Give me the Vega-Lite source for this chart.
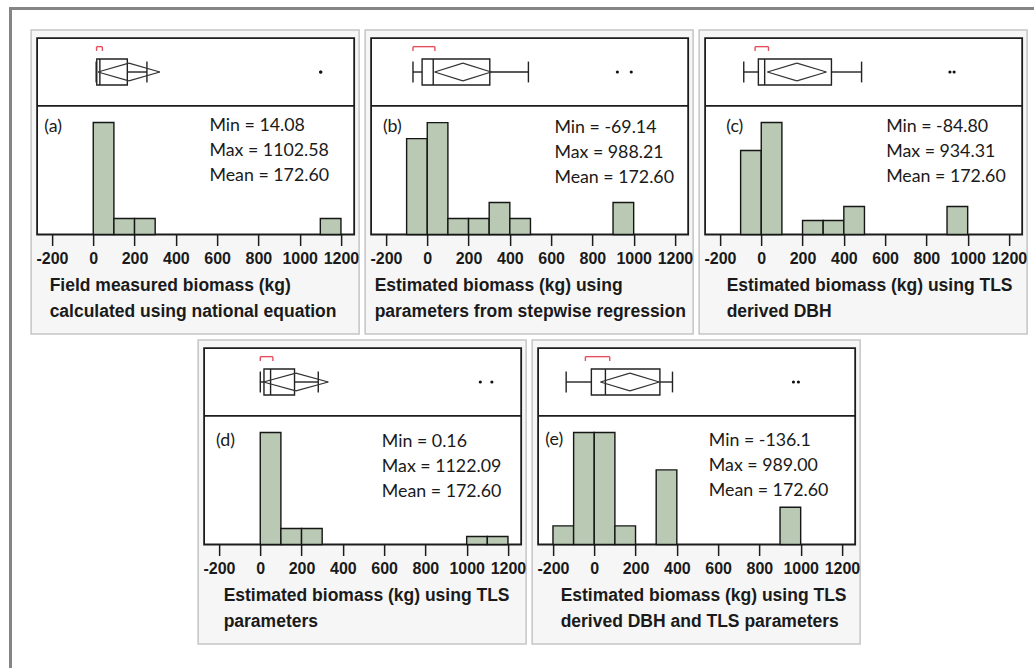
{
  "$schema": "https://vega.github.io/schema/vega-lite/v6.json",
  "background": "white",
  "padding": {"left": 9, "top": 7, "right": 0, "bottom": 0},
  "config": {
    "view": {"stroke": null},
    "axisX": {
      "domain": false, "grid": false, "offset": -99.5,
      "tickColor": "#1c1c1c", "tickWidth": 1.5,
      "labelFont": "Liberation Sans", "labelFontWeight": "bold", "labelFontSize": 16, "labelColor": "#1a1a1a",
      "labelPadding": 5, "labelOverlap": false, "labelFlush": false, "labelBound": false,
      "titleFont": "Liberation Sans", "titleFontWeight": "bold", "titleFontSize": 17.5, "titleColor": "#1a1a1a",
      "titleAlign": "left", "titleAnchor": "start", "titleBaseline": "top", "titleY": 42, "titleLineHeight": 25.5
    }
  },
  "datasets": {
    "stats": [
      {"panel": "a", "min": 14.08, "q1": 17, "median": 32, "q3": 165, "whiskerHi": 260, "mean": 172.6, "ciLo": 22.6, "ciHi": 322.6, "shortLo": 16, "shortHi": 44, "tag": "(a)", "summary": "Min = 14.08\nMax = 1102.58\nMean = 172.60"},
      {"panel": "b", "min": -69.14, "q1": -25, "median": 29, "q3": 303, "whiskerHi": 490, "mean": 172.6, "ciLo": 35.6, "ciHi": 309.6, "shortLo": -69.14, "shortHi": 37, "tag": "(b)", "summary": "Min = -69.14\nMax = 988.21\nMean = 172.60"},
      {"panel": "c", "min": -84.8, "q1": -14, "median": 16.5, "q3": 340, "whiskerHi": 486, "mean": 172.6, "ciLo": 29.6, "ciHi": 315.6, "shortLo": -30, "shortHi": 35, "tag": "(c)", "summary": "Min = -84.80\nMax = 934.31\nMean = 172.60"},
      {"panel": "d", "min": 0.16, "q1": 18, "median": 50, "q3": 166, "whiskerHi": 281, "mean": 172.6, "ciLo": 15.6, "ciHi": 329.6, "shortLo": 0.16, "shortHi": 61, "tag": "(d)", "summary": "Min = 0.16\nMax = 1122.09\nMean = 172.60"},
      {"panel": "e", "min": -136.1, "q1": -14, "median": 54, "q3": 318, "whiskerHi": 379, "mean": 172.6, "ciLo": 30.1, "ciHi": 315.1, "shortLo": -43, "shortHi": 75, "tag": "(e)", "summary": "Min = -136.1\nMax = 989.00\nMean = 172.60"}
    ],
    "outliers": [
      {"panel": "a", "value": 1101.2}, {"panel": "a", "value": 1102.58},
      {"panel": "b", "value": 921}, {"panel": "b", "value": 988.21},
      {"panel": "c", "value": 914}, {"panel": "c", "value": 934.31},
      {"panel": "d", "value": 1066}, {"panel": "d", "value": 1122.09},
      {"panel": "e", "value": 965}, {"panel": "e", "value": 989.0}
    ],
    "bins": [
      {"panel": "a", "lo": 0, "hi": 100, "count": 14}, {"panel": "a", "lo": 100, "hi": 200, "count": 2}, {"panel": "a", "lo": 200, "hi": 300, "count": 2}, {"panel": "a", "lo": 1100, "hi": 1200, "count": 2},
      {"panel": "b", "lo": -100, "hi": 0, "count": 6}, {"panel": "b", "lo": 0, "hi": 100, "count": 7}, {"panel": "b", "lo": 100, "hi": 200, "count": 1}, {"panel": "b", "lo": 200, "hi": 300, "count": 1}, {"panel": "b", "lo": 300, "hi": 400, "count": 2}, {"panel": "b", "lo": 400, "hi": 500, "count": 1}, {"panel": "b", "lo": 900, "hi": 1000, "count": 2},
      {"panel": "c", "lo": -100, "hi": 0, "count": 6}, {"panel": "c", "lo": 0, "hi": 100, "count": 8}, {"panel": "c", "lo": 200, "hi": 300, "count": 1}, {"panel": "c", "lo": 300, "hi": 400, "count": 1}, {"panel": "c", "lo": 400, "hi": 500, "count": 2}, {"panel": "c", "lo": 900, "hi": 1000, "count": 2},
      {"panel": "d", "lo": 0, "hi": 100, "count": 14}, {"panel": "d", "lo": 100, "hi": 200, "count": 2}, {"panel": "d", "lo": 200, "hi": 300, "count": 2}, {"panel": "d", "lo": 1000, "hi": 1100, "count": 1}, {"panel": "d", "lo": 1100, "hi": 1200, "count": 1},
      {"panel": "e", "lo": -200, "hi": -100, "count": 1}, {"panel": "e", "lo": -100, "hi": 0, "count": 6}, {"panel": "e", "lo": 0, "hi": 100, "count": 6}, {"panel": "e", "lo": 100, "hi": 200, "count": 1}, {"panel": "e", "lo": 300, "hi": 400, "count": 4}, {"panel": "e", "lo": 900, "hi": 1000, "count": 2}
    ]
  },
  "spacing": 0,
  "vconcat": [
    {
      "width": 1025, "height": 3,
      "data": {"values": [{}]},
      "mark": {"type": "rect", "opacity": 0},
      "encoding": {},
      "view": {"fill": "#858585", "stroke": null}
    },
    {
      "spacing": 18,
      "hconcat": [
        {
          "width": 3, "height": 658,
          "data": {"values": [{}]},
          "mark": {"type": "rect", "opacity": 0},
          "encoding": {},
          "view": {"fill": "#858585", "stroke": null}
        },
        {
          "spacing": 18,
          "vconcat": [
            {
              "width": 1, "height": 1,
              "data": {"values": [{}]},
              "mark": {"type": "rect", "opacity": 0},
              "encoding": {},
              "view": {"fill": null, "stroke": null}
            },
            {
              "spacing": 4,
              "center": true,
              "vconcat": [
                {
                  "spacing": 4,
                  "hconcat": [
                    {
                      "width": 328, "height": 304,
                      "view": {"fill": "#f6f6f6", "stroke": "#c5c5c5", "strokeWidth": 1.5},
                      "resolve": {"scale": {"y": "independent"}, "axis": {"x": "independent"}},
                      "layer": [
                        {"data": {"name": "stats"}, "transform": [{"filter": "datum.panel === 'a'"}],
                         "layer": [
                           {"mark": {"type": "rect", "fill": "#ffffff", "stroke": "#1c1c1c", "strokeWidth": 1.8},
                            "encoding": {"x": {"datum": -272, "type": "quantitative", "scale": {"domain": [-301, 1288], "nice": false, "zero": false}, "axis": null}, "x2": {"datum": 1264},
                                         "y": {"datum": 2.6, "type": "quantitative", "scale": {"domain": [-20.154, 3.231], "nice": false, "zero": false}, "axis": null}, "y2": {"datum": -12.5}}},
                           {"mark": {"type": "rule", "color": "#1c1c1c", "strokeWidth": 1.8},
                            "encoding": {"x": {"datum": -272, "type": "quantitative", "scale": {"domain": [-301, 1288], "nice": false, "zero": false}, "axis": null}, "x2": {"datum": 1264},
                                         "y": {"datum": -2.6, "type": "quantitative", "scale": {"domain": [-20.154, 3.231], "nice": false, "zero": false}, "axis": null}}}
                         ]},
                        {"data": {"name": "bins"}, "transform": [{"filter": "datum.panel === 'a'"}],
                         "mark": {"type": "rect", "fill": "#b9c9b3", "stroke": "#161616", "strokeWidth": 1.4},
                         "encoding": {
                           "x": {"field": "lo", "type": "quantitative", "scale": {"domain": [-301, 1288], "nice": false, "zero": false},
                                 "axis": {"orient": "bottom", "values": [-200, 0, 200, 400, 600, 800, 1000, 1200], "tickSize": 11,
                                          "labelExpr": "toString(datum.value)",
                                          "title": ["Field measured biomass (kg)", "calculated using national equation"], "titleX": 18}},
                           "x2": {"field": "hi"},
                           "y": {"field": "count", "type": "quantitative", "scale": {"domain": [-12.44, 25.57], "nice": false, "zero": false}, "axis": null},
                           "y2": {"datum": 0}}},
                        {"data": {"name": "stats"}, "transform": [{"filter": "datum.panel === 'a'"}],
                         "layer": [
                           {"mark": {"type": "rule", "color": "#222222", "strokeWidth": 1.4},
                            "encoding": {"x": {"field": "min", "type": "quantitative", "scale": {"domain": [-301, 1288], "nice": false, "zero": false},
                                               "axis": {"orient": "bottom", "values": [-100, 100, 300, 500, 700, 900, 1100], "tickSize": 6, "labels": false, "title": null}}, "x2": {"field": "q1"},
                                         "y": {"datum": 0, "type": "quantitative", "scale": {"domain": [-20.154, 3.231], "nice": false, "zero": false}, "axis": null}}},
                           {"mark": {"type": "rule", "color": "#222222", "strokeWidth": 1.4},
                            "encoding": {"x": {"field": "q3", "type": "quantitative", "scale": {"domain": [-301, 1288], "nice": false, "zero": false}, "axis": null}, "x2": {"field": "whiskerHi"},
                                         "y": {"datum": 0, "type": "quantitative", "scale": {"domain": [-20.154, 3.231], "nice": false, "zero": false}, "axis": null}}},
                           {"mark": {"type": "rule", "color": "#222222", "strokeWidth": 1.4},
                            "encoding": {"x": {"field": "min", "type": "quantitative", "scale": {"domain": [-301, 1288], "nice": false, "zero": false}, "axis": null},
                                         "y": {"datum": -0.8, "type": "quantitative", "scale": {"domain": [-20.154, 3.231], "nice": false, "zero": false}, "axis": null}, "y2": {"datum": 0.8}}},
                           {"mark": {"type": "rule", "color": "#222222", "strokeWidth": 1.4},
                            "encoding": {"x": {"field": "whiskerHi", "type": "quantitative", "scale": {"domain": [-301, 1288], "nice": false, "zero": false}, "axis": null},
                                         "y": {"datum": -0.8, "type": "quantitative", "scale": {"domain": [-20.154, 3.231], "nice": false, "zero": false}, "axis": null}, "y2": {"datum": 0.8}}},
                           {"mark": {"type": "rect", "filled": false, "stroke": "#222222", "strokeWidth": 1.4},
                            "encoding": {"x": {"field": "q1", "type": "quantitative", "scale": {"domain": [-301, 1288], "nice": false, "zero": false}, "axis": null}, "x2": {"field": "q3"},
                                         "y": {"datum": -1, "type": "quantitative", "scale": {"domain": [-20.154, 3.231], "nice": false, "zero": false}, "axis": null}, "y2": {"datum": 1}}},
                           {"mark": {"type": "rule", "color": "#222222", "strokeWidth": 1.4},
                            "encoding": {"x": {"field": "median", "type": "quantitative", "scale": {"domain": [-301, 1288], "nice": false, "zero": false}, "axis": null},
                                         "y": {"datum": -1, "type": "quantitative", "scale": {"domain": [-20.154, 3.231], "nice": false, "zero": false}, "axis": null}, "y2": {"datum": 1}}},
                           {"mark": {"type": "rule", "color": "#333333", "strokeWidth": 1.2},
                            "encoding": {"x": {"field": "ciLo", "type": "quantitative", "scale": {"domain": [-301, 1288], "nice": false, "zero": false}, "axis": null}, "x2": {"field": "mean"},
                                         "y": {"datum": 0, "type": "quantitative", "scale": {"domain": [-20.154, 3.231], "nice": false, "zero": false}, "axis": null}, "y2": {"datum": 0.68}}},
                           {"mark": {"type": "rule", "color": "#333333", "strokeWidth": 1.2},
                            "encoding": {"x": {"field": "ciLo", "type": "quantitative", "scale": {"domain": [-301, 1288], "nice": false, "zero": false}, "axis": null}, "x2": {"field": "mean"},
                                         "y": {"datum": 0, "type": "quantitative", "scale": {"domain": [-20.154, 3.231], "nice": false, "zero": false}, "axis": null}, "y2": {"datum": -0.68}}},
                           {"mark": {"type": "rule", "color": "#333333", "strokeWidth": 1.2},
                            "encoding": {"x": {"field": "ciHi", "type": "quantitative", "scale": {"domain": [-301, 1288], "nice": false, "zero": false}, "axis": null}, "x2": {"field": "mean"},
                                         "y": {"datum": 0, "type": "quantitative", "scale": {"domain": [-20.154, 3.231], "nice": false, "zero": false}, "axis": null}, "y2": {"datum": 0.68}}},
                           {"mark": {"type": "rule", "color": "#333333", "strokeWidth": 1.2},
                            "encoding": {"x": {"field": "ciHi", "type": "quantitative", "scale": {"domain": [-301, 1288], "nice": false, "zero": false}, "axis": null}, "x2": {"field": "mean"},
                                         "y": {"datum": 0, "type": "quantitative", "scale": {"domain": [-20.154, 3.231], "nice": false, "zero": false}, "axis": null}, "y2": {"datum": -0.68}}},
                           {"mark": {"type": "rule", "color": "#e5505e", "strokeWidth": 1.4},
                            "encoding": {"x": {"field": "shortLo", "type": "quantitative", "scale": {"domain": [-301, 1288], "nice": false, "zero": false}, "axis": null}, "x2": {"field": "shortHi"},
                                         "y": {"datum": 1.95, "type": "quantitative", "scale": {"domain": [-20.154, 3.231], "nice": false, "zero": false}, "axis": null}}},
                           {"mark": {"type": "rule", "color": "#e5505e", "strokeWidth": 1.4},
                            "encoding": {"x": {"field": "shortLo", "type": "quantitative", "scale": {"domain": [-301, 1288], "nice": false, "zero": false}, "axis": null},
                                         "y": {"datum": 1.62, "type": "quantitative", "scale": {"domain": [-20.154, 3.231], "nice": false, "zero": false}, "axis": null}, "y2": {"datum": 1.95}}},
                           {"mark": {"type": "rule", "color": "#e5505e", "strokeWidth": 1.4},
                            "encoding": {"x": {"field": "shortHi", "type": "quantitative", "scale": {"domain": [-301, 1288], "nice": false, "zero": false}, "axis": null},
                                         "y": {"datum": 1.62, "type": "quantitative", "scale": {"domain": [-20.154, 3.231], "nice": false, "zero": false}, "axis": null}, "y2": {"datum": 1.95}}},
                           {"data": {"name": "outliers"}, "transform": [{"filter": "datum.panel === 'a'"}],
                            "mark": {"type": "point", "filled": true, "color": "#111111", "size": 10, "opacity": 1},
                            "encoding": {"x": {"field": "value", "type": "quantitative", "scale": {"domain": [-301, 1288], "nice": false, "zero": false}, "axis": null},
                                         "y": {"datum": 0, "type": "quantitative", "scale": {"domain": [-20.154, 3.231], "nice": false, "zero": false}, "axis": null}}},
                           {"mark": {"type": "text", "font": "Lato", "fontSize": 17.8, "color": "#1a1a1a", "align": "left", "baseline": "middle"},
                            "encoding": {"text": {"field": "tag"},
                                         "x": {"datum": -237, "type": "quantitative", "scale": {"domain": [-301, 1288], "nice": false, "zero": false}, "axis": null},
                                         "y": {"datum": -4.23, "type": "quantitative", "scale": {"domain": [-20.154, 3.231], "nice": false, "zero": false}, "axis": null}}},
                           {"mark": {"type": "text", "font": "Lato", "fontSize": 17.8, "color": "#1a1a1a", "align": "left", "baseline": "middle", "lineBreak": "\n", "lineHeight": 25},
                            "encoding": {"text": {"field": "summary"},
                                         "x": {"datum": 563, "type": "quantitative", "scale": {"domain": [-301, 1288], "nice": false, "zero": false}, "axis": null},
                                         "y": {"datum": -4.15, "type": "quantitative", "scale": {"domain": [-20.154, 3.231], "nice": false, "zero": false}, "axis": null}}}
                         ]}
                      ]
                    },
                    {
                      "width": 328, "height": 304,
                      "view": {"fill": "#f6f6f6", "stroke": "#c5c5c5", "strokeWidth": 1.5},
                      "resolve": {"scale": {"y": "independent"}, "axis": {"x": "independent"}},
                      "layer": [
                        {"data": {"name": "stats"}, "transform": [{"filter": "datum.panel === 'b'"}],
                         "layer": [
                           {"mark": {"type": "rect", "fill": "#ffffff", "stroke": "#1c1c1c", "strokeWidth": 1.8},
                            "encoding": {"x": {"datum": -272, "type": "quantitative", "scale": {"domain": [-301, 1288], "nice": false, "zero": false}, "axis": null}, "x2": {"datum": 1264},
                                         "y": {"datum": 2.6, "type": "quantitative", "scale": {"domain": [-20.154, 3.231], "nice": false, "zero": false}, "axis": null}, "y2": {"datum": -12.5}}},
                           {"mark": {"type": "rule", "color": "#1c1c1c", "strokeWidth": 1.8},
                            "encoding": {"x": {"datum": -272, "type": "quantitative", "scale": {"domain": [-301, 1288], "nice": false, "zero": false}, "axis": null}, "x2": {"datum": 1264},
                                         "y": {"datum": -2.6, "type": "quantitative", "scale": {"domain": [-20.154, 3.231], "nice": false, "zero": false}, "axis": null}}}
                         ]},
                        {"data": {"name": "bins"}, "transform": [{"filter": "datum.panel === 'b'"}],
                         "mark": {"type": "rect", "fill": "#b9c9b3", "stroke": "#161616", "strokeWidth": 1.4},
                         "encoding": {
                           "x": {"field": "lo", "type": "quantitative", "scale": {"domain": [-301, 1288], "nice": false, "zero": false},
                                 "axis": {"orient": "bottom", "values": [-200, 0, 200, 400, 600, 800, 1000, 1200], "tickSize": 11,
                                          "labelExpr": "toString(datum.value)",
                                          "title": ["Estimated biomass (kg) using", "parameters from stepwise regression"], "titleX": 9}},
                           "x2": {"field": "hi"},
                           "y": {"field": "count", "type": "quantitative", "scale": {"domain": [-6.22, 12.79], "nice": false, "zero": false}, "axis": null},
                           "y2": {"datum": 0}}},
                        {"data": {"name": "stats"}, "transform": [{"filter": "datum.panel === 'b'"}],
                         "layer": [
                           {"mark": {"type": "rule", "color": "#222222", "strokeWidth": 1.4},
                            "encoding": {"x": {"field": "min", "type": "quantitative", "scale": {"domain": [-301, 1288], "nice": false, "zero": false},
                                               "axis": {"orient": "bottom", "values": [-100, 100, 300, 500, 700, 900, 1100], "tickSize": 6, "labels": false, "title": null}}, "x2": {"field": "q1"},
                                         "y": {"datum": 0, "type": "quantitative", "scale": {"domain": [-20.154, 3.231], "nice": false, "zero": false}, "axis": null}}},
                           {"mark": {"type": "rule", "color": "#222222", "strokeWidth": 1.4},
                            "encoding": {"x": {"field": "q3", "type": "quantitative", "scale": {"domain": [-301, 1288], "nice": false, "zero": false}, "axis": null}, "x2": {"field": "whiskerHi"},
                                         "y": {"datum": 0, "type": "quantitative", "scale": {"domain": [-20.154, 3.231], "nice": false, "zero": false}, "axis": null}}},
                           {"mark": {"type": "rule", "color": "#222222", "strokeWidth": 1.4},
                            "encoding": {"x": {"field": "min", "type": "quantitative", "scale": {"domain": [-301, 1288], "nice": false, "zero": false}, "axis": null},
                                         "y": {"datum": -0.8, "type": "quantitative", "scale": {"domain": [-20.154, 3.231], "nice": false, "zero": false}, "axis": null}, "y2": {"datum": 0.8}}},
                           {"mark": {"type": "rule", "color": "#222222", "strokeWidth": 1.4},
                            "encoding": {"x": {"field": "whiskerHi", "type": "quantitative", "scale": {"domain": [-301, 1288], "nice": false, "zero": false}, "axis": null},
                                         "y": {"datum": -0.8, "type": "quantitative", "scale": {"domain": [-20.154, 3.231], "nice": false, "zero": false}, "axis": null}, "y2": {"datum": 0.8}}},
                           {"mark": {"type": "rect", "filled": false, "stroke": "#222222", "strokeWidth": 1.4},
                            "encoding": {"x": {"field": "q1", "type": "quantitative", "scale": {"domain": [-301, 1288], "nice": false, "zero": false}, "axis": null}, "x2": {"field": "q3"},
                                         "y": {"datum": -1, "type": "quantitative", "scale": {"domain": [-20.154, 3.231], "nice": false, "zero": false}, "axis": null}, "y2": {"datum": 1}}},
                           {"mark": {"type": "rule", "color": "#222222", "strokeWidth": 1.4},
                            "encoding": {"x": {"field": "median", "type": "quantitative", "scale": {"domain": [-301, 1288], "nice": false, "zero": false}, "axis": null},
                                         "y": {"datum": -1, "type": "quantitative", "scale": {"domain": [-20.154, 3.231], "nice": false, "zero": false}, "axis": null}, "y2": {"datum": 1}}},
                           {"mark": {"type": "rule", "color": "#333333", "strokeWidth": 1.2},
                            "encoding": {"x": {"field": "ciLo", "type": "quantitative", "scale": {"domain": [-301, 1288], "nice": false, "zero": false}, "axis": null}, "x2": {"field": "mean"},
                                         "y": {"datum": 0, "type": "quantitative", "scale": {"domain": [-20.154, 3.231], "nice": false, "zero": false}, "axis": null}, "y2": {"datum": 0.68}}},
                           {"mark": {"type": "rule", "color": "#333333", "strokeWidth": 1.2},
                            "encoding": {"x": {"field": "ciLo", "type": "quantitative", "scale": {"domain": [-301, 1288], "nice": false, "zero": false}, "axis": null}, "x2": {"field": "mean"},
                                         "y": {"datum": 0, "type": "quantitative", "scale": {"domain": [-20.154, 3.231], "nice": false, "zero": false}, "axis": null}, "y2": {"datum": -0.68}}},
                           {"mark": {"type": "rule", "color": "#333333", "strokeWidth": 1.2},
                            "encoding": {"x": {"field": "ciHi", "type": "quantitative", "scale": {"domain": [-301, 1288], "nice": false, "zero": false}, "axis": null}, "x2": {"field": "mean"},
                                         "y": {"datum": 0, "type": "quantitative", "scale": {"domain": [-20.154, 3.231], "nice": false, "zero": false}, "axis": null}, "y2": {"datum": 0.68}}},
                           {"mark": {"type": "rule", "color": "#333333", "strokeWidth": 1.2},
                            "encoding": {"x": {"field": "ciHi", "type": "quantitative", "scale": {"domain": [-301, 1288], "nice": false, "zero": false}, "axis": null}, "x2": {"field": "mean"},
                                         "y": {"datum": 0, "type": "quantitative", "scale": {"domain": [-20.154, 3.231], "nice": false, "zero": false}, "axis": null}, "y2": {"datum": -0.68}}},
                           {"mark": {"type": "rule", "color": "#e5505e", "strokeWidth": 1.4},
                            "encoding": {"x": {"field": "shortLo", "type": "quantitative", "scale": {"domain": [-301, 1288], "nice": false, "zero": false}, "axis": null}, "x2": {"field": "shortHi"},
                                         "y": {"datum": 1.95, "type": "quantitative", "scale": {"domain": [-20.154, 3.231], "nice": false, "zero": false}, "axis": null}}},
                           {"mark": {"type": "rule", "color": "#e5505e", "strokeWidth": 1.4},
                            "encoding": {"x": {"field": "shortLo", "type": "quantitative", "scale": {"domain": [-301, 1288], "nice": false, "zero": false}, "axis": null},
                                         "y": {"datum": 1.62, "type": "quantitative", "scale": {"domain": [-20.154, 3.231], "nice": false, "zero": false}, "axis": null}, "y2": {"datum": 1.95}}},
                           {"mark": {"type": "rule", "color": "#e5505e", "strokeWidth": 1.4},
                            "encoding": {"x": {"field": "shortHi", "type": "quantitative", "scale": {"domain": [-301, 1288], "nice": false, "zero": false}, "axis": null},
                                         "y": {"datum": 1.62, "type": "quantitative", "scale": {"domain": [-20.154, 3.231], "nice": false, "zero": false}, "axis": null}, "y2": {"datum": 1.95}}},
                           {"data": {"name": "outliers"}, "transform": [{"filter": "datum.panel === 'b'"}],
                            "mark": {"type": "point", "filled": true, "color": "#111111", "size": 10, "opacity": 1},
                            "encoding": {"x": {"field": "value", "type": "quantitative", "scale": {"domain": [-301, 1288], "nice": false, "zero": false}, "axis": null},
                                         "y": {"datum": 0, "type": "quantitative", "scale": {"domain": [-20.154, 3.231], "nice": false, "zero": false}, "axis": null}}},
                           {"mark": {"type": "text", "font": "Lato", "fontSize": 17.8, "color": "#1a1a1a", "align": "left", "baseline": "middle"},
                            "encoding": {"text": {"field": "tag"},
                                         "x": {"datum": -215, "type": "quantitative", "scale": {"domain": [-301, 1288], "nice": false, "zero": false}, "axis": null},
                                         "y": {"datum": -4.23, "type": "quantitative", "scale": {"domain": [-20.154, 3.231], "nice": false, "zero": false}, "axis": null}}},
                           {"mark": {"type": "text", "font": "Lato", "fontSize": 17.8, "color": "#1a1a1a", "align": "left", "baseline": "middle", "lineBreak": "\n", "lineHeight": 25},
                            "encoding": {"text": {"field": "summary"},
                                         "x": {"datum": 616, "type": "quantitative", "scale": {"domain": [-301, 1288], "nice": false, "zero": false}, "axis": null},
                                         "y": {"datum": -4.28, "type": "quantitative", "scale": {"domain": [-20.154, 3.231], "nice": false, "zero": false}, "axis": null}}}
                         ]}
                      ]
                    },
                    {
                      "width": 328, "height": 304,
                      "view": {"fill": "#f6f6f6", "stroke": "#c5c5c5", "strokeWidth": 1.5},
                      "resolve": {"scale": {"y": "independent"}, "axis": {"x": "independent"}},
                      "layer": [
                        {"data": {"name": "stats"}, "transform": [{"filter": "datum.panel === 'c'"}],
                         "layer": [
                           {"mark": {"type": "rect", "fill": "#ffffff", "stroke": "#1c1c1c", "strokeWidth": 1.8},
                            "encoding": {"x": {"datum": -272, "type": "quantitative", "scale": {"domain": [-301, 1288], "nice": false, "zero": false}, "axis": null}, "x2": {"datum": 1264},
                                         "y": {"datum": 2.6, "type": "quantitative", "scale": {"domain": [-20.154, 3.231], "nice": false, "zero": false}, "axis": null}, "y2": {"datum": -12.5}}},
                           {"mark": {"type": "rule", "color": "#1c1c1c", "strokeWidth": 1.8},
                            "encoding": {"x": {"datum": -272, "type": "quantitative", "scale": {"domain": [-301, 1288], "nice": false, "zero": false}, "axis": null}, "x2": {"datum": 1264},
                                         "y": {"datum": -2.6, "type": "quantitative", "scale": {"domain": [-20.154, 3.231], "nice": false, "zero": false}, "axis": null}}}
                         ]},
                        {"data": {"name": "bins"}, "transform": [{"filter": "datum.panel === 'c'"}],
                         "mark": {"type": "rect", "fill": "#b9c9b3", "stroke": "#161616", "strokeWidth": 1.4},
                         "encoding": {
                           "x": {"field": "lo", "type": "quantitative", "scale": {"domain": [-301, 1288], "nice": false, "zero": false},
                                 "axis": {"orient": "bottom", "values": [-200, 0, 200, 400, 600, 800, 1000, 1200], "tickSize": 11,
                                          "labelExpr": "toString(datum.value)",
                                          "title": ["Estimated biomass (kg) using TLS", "derived DBH"], "titleX": 27}},
                           "x2": {"field": "hi"},
                           "y": {"field": "count", "type": "quantitative", "scale": {"domain": [-7.11, 14.61], "nice": false, "zero": false}, "axis": null},
                           "y2": {"datum": 0}}},
                        {"data": {"name": "stats"}, "transform": [{"filter": "datum.panel === 'c'"}],
                         "layer": [
                           {"mark": {"type": "rule", "color": "#222222", "strokeWidth": 1.4},
                            "encoding": {"x": {"field": "min", "type": "quantitative", "scale": {"domain": [-301, 1288], "nice": false, "zero": false},
                                               "axis": {"orient": "bottom", "values": [-100, 100, 300, 500, 700, 900, 1100], "tickSize": 6, "labels": false, "title": null}}, "x2": {"field": "q1"},
                                         "y": {"datum": 0, "type": "quantitative", "scale": {"domain": [-20.154, 3.231], "nice": false, "zero": false}, "axis": null}}},
                           {"mark": {"type": "rule", "color": "#222222", "strokeWidth": 1.4},
                            "encoding": {"x": {"field": "q3", "type": "quantitative", "scale": {"domain": [-301, 1288], "nice": false, "zero": false}, "axis": null}, "x2": {"field": "whiskerHi"},
                                         "y": {"datum": 0, "type": "quantitative", "scale": {"domain": [-20.154, 3.231], "nice": false, "zero": false}, "axis": null}}},
                           {"mark": {"type": "rule", "color": "#222222", "strokeWidth": 1.4},
                            "encoding": {"x": {"field": "min", "type": "quantitative", "scale": {"domain": [-301, 1288], "nice": false, "zero": false}, "axis": null},
                                         "y": {"datum": -0.8, "type": "quantitative", "scale": {"domain": [-20.154, 3.231], "nice": false, "zero": false}, "axis": null}, "y2": {"datum": 0.8}}},
                           {"mark": {"type": "rule", "color": "#222222", "strokeWidth": 1.4},
                            "encoding": {"x": {"field": "whiskerHi", "type": "quantitative", "scale": {"domain": [-301, 1288], "nice": false, "zero": false}, "axis": null},
                                         "y": {"datum": -0.8, "type": "quantitative", "scale": {"domain": [-20.154, 3.231], "nice": false, "zero": false}, "axis": null}, "y2": {"datum": 0.8}}},
                           {"mark": {"type": "rect", "filled": false, "stroke": "#222222", "strokeWidth": 1.4},
                            "encoding": {"x": {"field": "q1", "type": "quantitative", "scale": {"domain": [-301, 1288], "nice": false, "zero": false}, "axis": null}, "x2": {"field": "q3"},
                                         "y": {"datum": -1, "type": "quantitative", "scale": {"domain": [-20.154, 3.231], "nice": false, "zero": false}, "axis": null}, "y2": {"datum": 1}}},
                           {"mark": {"type": "rule", "color": "#222222", "strokeWidth": 1.4},
                            "encoding": {"x": {"field": "median", "type": "quantitative", "scale": {"domain": [-301, 1288], "nice": false, "zero": false}, "axis": null},
                                         "y": {"datum": -1, "type": "quantitative", "scale": {"domain": [-20.154, 3.231], "nice": false, "zero": false}, "axis": null}, "y2": {"datum": 1}}},
                           {"mark": {"type": "rule", "color": "#333333", "strokeWidth": 1.2},
                            "encoding": {"x": {"field": "ciLo", "type": "quantitative", "scale": {"domain": [-301, 1288], "nice": false, "zero": false}, "axis": null}, "x2": {"field": "mean"},
                                         "y": {"datum": 0, "type": "quantitative", "scale": {"domain": [-20.154, 3.231], "nice": false, "zero": false}, "axis": null}, "y2": {"datum": 0.68}}},
                           {"mark": {"type": "rule", "color": "#333333", "strokeWidth": 1.2},
                            "encoding": {"x": {"field": "ciLo", "type": "quantitative", "scale": {"domain": [-301, 1288], "nice": false, "zero": false}, "axis": null}, "x2": {"field": "mean"},
                                         "y": {"datum": 0, "type": "quantitative", "scale": {"domain": [-20.154, 3.231], "nice": false, "zero": false}, "axis": null}, "y2": {"datum": -0.68}}},
                           {"mark": {"type": "rule", "color": "#333333", "strokeWidth": 1.2},
                            "encoding": {"x": {"field": "ciHi", "type": "quantitative", "scale": {"domain": [-301, 1288], "nice": false, "zero": false}, "axis": null}, "x2": {"field": "mean"},
                                         "y": {"datum": 0, "type": "quantitative", "scale": {"domain": [-20.154, 3.231], "nice": false, "zero": false}, "axis": null}, "y2": {"datum": 0.68}}},
                           {"mark": {"type": "rule", "color": "#333333", "strokeWidth": 1.2},
                            "encoding": {"x": {"field": "ciHi", "type": "quantitative", "scale": {"domain": [-301, 1288], "nice": false, "zero": false}, "axis": null}, "x2": {"field": "mean"},
                                         "y": {"datum": 0, "type": "quantitative", "scale": {"domain": [-20.154, 3.231], "nice": false, "zero": false}, "axis": null}, "y2": {"datum": -0.68}}},
                           {"mark": {"type": "rule", "color": "#e5505e", "strokeWidth": 1.4},
                            "encoding": {"x": {"field": "shortLo", "type": "quantitative", "scale": {"domain": [-301, 1288], "nice": false, "zero": false}, "axis": null}, "x2": {"field": "shortHi"},
                                         "y": {"datum": 1.95, "type": "quantitative", "scale": {"domain": [-20.154, 3.231], "nice": false, "zero": false}, "axis": null}}},
                           {"mark": {"type": "rule", "color": "#e5505e", "strokeWidth": 1.4},
                            "encoding": {"x": {"field": "shortLo", "type": "quantitative", "scale": {"domain": [-301, 1288], "nice": false, "zero": false}, "axis": null},
                                         "y": {"datum": 1.62, "type": "quantitative", "scale": {"domain": [-20.154, 3.231], "nice": false, "zero": false}, "axis": null}, "y2": {"datum": 1.95}}},
                           {"mark": {"type": "rule", "color": "#e5505e", "strokeWidth": 1.4},
                            "encoding": {"x": {"field": "shortHi", "type": "quantitative", "scale": {"domain": [-301, 1288], "nice": false, "zero": false}, "axis": null},
                                         "y": {"datum": 1.62, "type": "quantitative", "scale": {"domain": [-20.154, 3.231], "nice": false, "zero": false}, "axis": null}, "y2": {"datum": 1.95}}},
                           {"data": {"name": "outliers"}, "transform": [{"filter": "datum.panel === 'c'"}],
                            "mark": {"type": "point", "filled": true, "color": "#111111", "size": 10, "opacity": 1},
                            "encoding": {"x": {"field": "value", "type": "quantitative", "scale": {"domain": [-301, 1288], "nice": false, "zero": false}, "axis": null},
                                         "y": {"datum": 0, "type": "quantitative", "scale": {"domain": [-20.154, 3.231], "nice": false, "zero": false}, "axis": null}}},
                           {"mark": {"type": "text", "font": "Lato", "fontSize": 17.8, "color": "#1a1a1a", "align": "left", "baseline": "middle"},
                            "encoding": {"text": {"field": "tag"},
                                         "x": {"datum": -170, "type": "quantitative", "scale": {"domain": [-301, 1288], "nice": false, "zero": false}, "axis": null},
                                         "y": {"datum": -4.25, "type": "quantitative", "scale": {"domain": [-20.154, 3.231], "nice": false, "zero": false}, "axis": null}}},
                           {"mark": {"type": "text", "font": "Lato", "fontSize": 17.8, "color": "#1a1a1a", "align": "left", "baseline": "middle", "lineBreak": "\n", "lineHeight": 25},
                            "encoding": {"text": {"field": "summary"},
                                         "x": {"datum": 605, "type": "quantitative", "scale": {"domain": [-301, 1288], "nice": false, "zero": false}, "axis": null},
                                         "y": {"datum": -4.23, "type": "quantitative", "scale": {"domain": [-20.154, 3.231], "nice": false, "zero": false}, "axis": null}}}
                         ]}
                      ]
                    }
                  ]
                },
                {
                  "spacing": 4,
                  "hconcat": [
                    {
                      "width": 328, "height": 304,
                      "view": {"fill": "#f6f6f6", "stroke": "#c5c5c5", "strokeWidth": 1.5},
                      "resolve": {"scale": {"y": "independent"}, "axis": {"x": "independent"}},
                      "layer": [
                        {"data": {"name": "stats"}, "transform": [{"filter": "datum.panel === 'd'"}],
                         "layer": [
                           {"mark": {"type": "rect", "fill": "#ffffff", "stroke": "#1c1c1c", "strokeWidth": 1.8},
                            "encoding": {"x": {"datum": -272, "type": "quantitative", "scale": {"domain": [-301, 1288], "nice": false, "zero": false}, "axis": null}, "x2": {"datum": 1264},
                                         "y": {"datum": 2.6, "type": "quantitative", "scale": {"domain": [-20.154, 3.231], "nice": false, "zero": false}, "axis": null}, "y2": {"datum": -12.5}}},
                           {"mark": {"type": "rule", "color": "#1c1c1c", "strokeWidth": 1.8},
                            "encoding": {"x": {"datum": -272, "type": "quantitative", "scale": {"domain": [-301, 1288], "nice": false, "zero": false}, "axis": null}, "x2": {"datum": 1264},
                                         "y": {"datum": -2.6, "type": "quantitative", "scale": {"domain": [-20.154, 3.231], "nice": false, "zero": false}, "axis": null}}}
                         ]},
                        {"data": {"name": "bins"}, "transform": [{"filter": "datum.panel === 'd'"}],
                         "mark": {"type": "rect", "fill": "#b9c9b3", "stroke": "#161616", "strokeWidth": 1.4},
                         "encoding": {
                           "x": {"field": "lo", "type": "quantitative", "scale": {"domain": [-301, 1288], "nice": false, "zero": false},
                                 "axis": {"orient": "bottom", "values": [-200, 0, 200, 400, 600, 800, 1000, 1200], "tickSize": 11,
                                          "labelExpr": "toString(datum.value)",
                                          "title": ["Estimated biomass (kg) using TLS", "parameters"], "titleX": 25}},
                           "x2": {"field": "hi"},
                           "y": {"field": "count", "type": "quantitative", "scale": {"domain": [-12.44, 25.57], "nice": false, "zero": false}, "axis": null},
                           "y2": {"datum": 0}}},
                        {"data": {"name": "stats"}, "transform": [{"filter": "datum.panel === 'd'"}],
                         "layer": [
                           {"mark": {"type": "rule", "color": "#222222", "strokeWidth": 1.4},
                            "encoding": {"x": {"field": "min", "type": "quantitative", "scale": {"domain": [-301, 1288], "nice": false, "zero": false},
                                               "axis": {"orient": "bottom", "values": [-100, 100, 300, 500, 700, 900, 1100], "tickSize": 6, "labels": false, "title": null}}, "x2": {"field": "q1"},
                                         "y": {"datum": 0, "type": "quantitative", "scale": {"domain": [-20.154, 3.231], "nice": false, "zero": false}, "axis": null}}},
                           {"mark": {"type": "rule", "color": "#222222", "strokeWidth": 1.4},
                            "encoding": {"x": {"field": "q3", "type": "quantitative", "scale": {"domain": [-301, 1288], "nice": false, "zero": false}, "axis": null}, "x2": {"field": "whiskerHi"},
                                         "y": {"datum": 0, "type": "quantitative", "scale": {"domain": [-20.154, 3.231], "nice": false, "zero": false}, "axis": null}}},
                           {"mark": {"type": "rule", "color": "#222222", "strokeWidth": 1.4},
                            "encoding": {"x": {"field": "min", "type": "quantitative", "scale": {"domain": [-301, 1288], "nice": false, "zero": false}, "axis": null},
                                         "y": {"datum": -0.8, "type": "quantitative", "scale": {"domain": [-20.154, 3.231], "nice": false, "zero": false}, "axis": null}, "y2": {"datum": 0.8}}},
                           {"mark": {"type": "rule", "color": "#222222", "strokeWidth": 1.4},
                            "encoding": {"x": {"field": "whiskerHi", "type": "quantitative", "scale": {"domain": [-301, 1288], "nice": false, "zero": false}, "axis": null},
                                         "y": {"datum": -0.8, "type": "quantitative", "scale": {"domain": [-20.154, 3.231], "nice": false, "zero": false}, "axis": null}, "y2": {"datum": 0.8}}},
                           {"mark": {"type": "rect", "filled": false, "stroke": "#222222", "strokeWidth": 1.4},
                            "encoding": {"x": {"field": "q1", "type": "quantitative", "scale": {"domain": [-301, 1288], "nice": false, "zero": false}, "axis": null}, "x2": {"field": "q3"},
                                         "y": {"datum": -1, "type": "quantitative", "scale": {"domain": [-20.154, 3.231], "nice": false, "zero": false}, "axis": null}, "y2": {"datum": 1}}},
                           {"mark": {"type": "rule", "color": "#222222", "strokeWidth": 1.4},
                            "encoding": {"x": {"field": "median", "type": "quantitative", "scale": {"domain": [-301, 1288], "nice": false, "zero": false}, "axis": null},
                                         "y": {"datum": -1, "type": "quantitative", "scale": {"domain": [-20.154, 3.231], "nice": false, "zero": false}, "axis": null}, "y2": {"datum": 1}}},
                           {"mark": {"type": "rule", "color": "#333333", "strokeWidth": 1.2},
                            "encoding": {"x": {"field": "ciLo", "type": "quantitative", "scale": {"domain": [-301, 1288], "nice": false, "zero": false}, "axis": null}, "x2": {"field": "mean"},
                                         "y": {"datum": 0, "type": "quantitative", "scale": {"domain": [-20.154, 3.231], "nice": false, "zero": false}, "axis": null}, "y2": {"datum": 0.68}}},
                           {"mark": {"type": "rule", "color": "#333333", "strokeWidth": 1.2},
                            "encoding": {"x": {"field": "ciLo", "type": "quantitative", "scale": {"domain": [-301, 1288], "nice": false, "zero": false}, "axis": null}, "x2": {"field": "mean"},
                                         "y": {"datum": 0, "type": "quantitative", "scale": {"domain": [-20.154, 3.231], "nice": false, "zero": false}, "axis": null}, "y2": {"datum": -0.68}}},
                           {"mark": {"type": "rule", "color": "#333333", "strokeWidth": 1.2},
                            "encoding": {"x": {"field": "ciHi", "type": "quantitative", "scale": {"domain": [-301, 1288], "nice": false, "zero": false}, "axis": null}, "x2": {"field": "mean"},
                                         "y": {"datum": 0, "type": "quantitative", "scale": {"domain": [-20.154, 3.231], "nice": false, "zero": false}, "axis": null}, "y2": {"datum": 0.68}}},
                           {"mark": {"type": "rule", "color": "#333333", "strokeWidth": 1.2},
                            "encoding": {"x": {"field": "ciHi", "type": "quantitative", "scale": {"domain": [-301, 1288], "nice": false, "zero": false}, "axis": null}, "x2": {"field": "mean"},
                                         "y": {"datum": 0, "type": "quantitative", "scale": {"domain": [-20.154, 3.231], "nice": false, "zero": false}, "axis": null}, "y2": {"datum": -0.68}}},
                           {"mark": {"type": "rule", "color": "#e5505e", "strokeWidth": 1.4},
                            "encoding": {"x": {"field": "shortLo", "type": "quantitative", "scale": {"domain": [-301, 1288], "nice": false, "zero": false}, "axis": null}, "x2": {"field": "shortHi"},
                                         "y": {"datum": 1.95, "type": "quantitative", "scale": {"domain": [-20.154, 3.231], "nice": false, "zero": false}, "axis": null}}},
                           {"mark": {"type": "rule", "color": "#e5505e", "strokeWidth": 1.4},
                            "encoding": {"x": {"field": "shortLo", "type": "quantitative", "scale": {"domain": [-301, 1288], "nice": false, "zero": false}, "axis": null},
                                         "y": {"datum": 1.62, "type": "quantitative", "scale": {"domain": [-20.154, 3.231], "nice": false, "zero": false}, "axis": null}, "y2": {"datum": 1.95}}},
                           {"mark": {"type": "rule", "color": "#e5505e", "strokeWidth": 1.4},
                            "encoding": {"x": {"field": "shortHi", "type": "quantitative", "scale": {"domain": [-301, 1288], "nice": false, "zero": false}, "axis": null},
                                         "y": {"datum": 1.62, "type": "quantitative", "scale": {"domain": [-20.154, 3.231], "nice": false, "zero": false}, "axis": null}, "y2": {"datum": 1.95}}},
                           {"data": {"name": "outliers"}, "transform": [{"filter": "datum.panel === 'd'"}],
                            "mark": {"type": "point", "filled": true, "color": "#111111", "size": 10, "opacity": 1},
                            "encoding": {"x": {"field": "value", "type": "quantitative", "scale": {"domain": [-301, 1288], "nice": false, "zero": false}, "axis": null},
                                         "y": {"datum": 0, "type": "quantitative", "scale": {"domain": [-20.154, 3.231], "nice": false, "zero": false}, "axis": null}}},
                           {"mark": {"type": "text", "font": "Lato", "fontSize": 17.8, "color": "#1a1a1a", "align": "left", "baseline": "middle"},
                            "encoding": {"text": {"field": "tag"},
                                         "x": {"datum": -214, "type": "quantitative", "scale": {"domain": [-301, 1288], "nice": false, "zero": false}, "axis": null},
                                         "y": {"datum": -4.5, "type": "quantitative", "scale": {"domain": [-20.154, 3.231], "nice": false, "zero": false}, "axis": null}}},
                           {"mark": {"type": "text", "font": "Lato", "fontSize": 17.8, "color": "#1a1a1a", "align": "left", "baseline": "middle", "lineBreak": "\n", "lineHeight": 25},
                            "encoding": {"text": {"field": "summary"},
                                         "x": {"datum": 589, "type": "quantitative", "scale": {"domain": [-301, 1288], "nice": false, "zero": false}, "axis": null},
                                         "y": {"datum": -4.6, "type": "quantitative", "scale": {"domain": [-20.154, 3.231], "nice": false, "zero": false}, "axis": null}}}
                         ]}
                      ]
                    },
                    {
                      "width": 328, "height": 304,
                      "view": {"fill": "#f6f6f6", "stroke": "#c5c5c5", "strokeWidth": 1.5},
                      "resolve": {"scale": {"y": "independent"}, "axis": {"x": "independent"}},
                      "layer": [
                        {"data": {"name": "stats"}, "transform": [{"filter": "datum.panel === 'e'"}],
                         "layer": [
                           {"mark": {"type": "rect", "fill": "#ffffff", "stroke": "#1c1c1c", "strokeWidth": 1.8},
                            "encoding": {"x": {"datum": -272, "type": "quantitative", "scale": {"domain": [-301, 1288], "nice": false, "zero": false}, "axis": null}, "x2": {"datum": 1264},
                                         "y": {"datum": 2.6, "type": "quantitative", "scale": {"domain": [-20.154, 3.231], "nice": false, "zero": false}, "axis": null}, "y2": {"datum": -12.5}}},
                           {"mark": {"type": "rule", "color": "#1c1c1c", "strokeWidth": 1.8},
                            "encoding": {"x": {"datum": -272, "type": "quantitative", "scale": {"domain": [-301, 1288], "nice": false, "zero": false}, "axis": null}, "x2": {"datum": 1264},
                                         "y": {"datum": -2.6, "type": "quantitative", "scale": {"domain": [-20.154, 3.231], "nice": false, "zero": false}, "axis": null}}}
                         ]},
                        {"data": {"name": "bins"}, "transform": [{"filter": "datum.panel === 'e'"}],
                         "mark": {"type": "rect", "fill": "#b9c9b3", "stroke": "#161616", "strokeWidth": 1.4},
                         "encoding": {
                           "x": {"field": "lo", "type": "quantitative", "scale": {"domain": [-301, 1288], "nice": false, "zero": false},
                                 "axis": {"orient": "bottom", "values": [-200, 0, 200, 400, 600, 800, 1000, 1200], "tickSize": 11,
                                          "labelExpr": "toString(datum.value)",
                                          "title": ["Estimated biomass (kg) using TLS", "derived DBH and TLS parameters"], "titleX": 28}},
                           "x2": {"field": "hi"},
                           "y": {"field": "count", "type": "quantitative", "scale": {"domain": [-5.33, 10.96], "nice": false, "zero": false}, "axis": null},
                           "y2": {"datum": 0}}},
                        {"data": {"name": "stats"}, "transform": [{"filter": "datum.panel === 'e'"}],
                         "layer": [
                           {"mark": {"type": "rule", "color": "#222222", "strokeWidth": 1.4},
                            "encoding": {"x": {"field": "min", "type": "quantitative", "scale": {"domain": [-301, 1288], "nice": false, "zero": false},
                                               "axis": {"orient": "bottom", "values": [-100, 100, 300, 500, 700, 900, 1100], "tickSize": 6, "labels": false, "title": null}}, "x2": {"field": "q1"},
                                         "y": {"datum": 0, "type": "quantitative", "scale": {"domain": [-20.154, 3.231], "nice": false, "zero": false}, "axis": null}}},
                           {"mark": {"type": "rule", "color": "#222222", "strokeWidth": 1.4},
                            "encoding": {"x": {"field": "q3", "type": "quantitative", "scale": {"domain": [-301, 1288], "nice": false, "zero": false}, "axis": null}, "x2": {"field": "whiskerHi"},
                                         "y": {"datum": 0, "type": "quantitative", "scale": {"domain": [-20.154, 3.231], "nice": false, "zero": false}, "axis": null}}},
                           {"mark": {"type": "rule", "color": "#222222", "strokeWidth": 1.4},
                            "encoding": {"x": {"field": "min", "type": "quantitative", "scale": {"domain": [-301, 1288], "nice": false, "zero": false}, "axis": null},
                                         "y": {"datum": -0.8, "type": "quantitative", "scale": {"domain": [-20.154, 3.231], "nice": false, "zero": false}, "axis": null}, "y2": {"datum": 0.8}}},
                           {"mark": {"type": "rule", "color": "#222222", "strokeWidth": 1.4},
                            "encoding": {"x": {"field": "whiskerHi", "type": "quantitative", "scale": {"domain": [-301, 1288], "nice": false, "zero": false}, "axis": null},
                                         "y": {"datum": -0.8, "type": "quantitative", "scale": {"domain": [-20.154, 3.231], "nice": false, "zero": false}, "axis": null}, "y2": {"datum": 0.8}}},
                           {"mark": {"type": "rect", "filled": false, "stroke": "#222222", "strokeWidth": 1.4},
                            "encoding": {"x": {"field": "q1", "type": "quantitative", "scale": {"domain": [-301, 1288], "nice": false, "zero": false}, "axis": null}, "x2": {"field": "q3"},
                                         "y": {"datum": -1, "type": "quantitative", "scale": {"domain": [-20.154, 3.231], "nice": false, "zero": false}, "axis": null}, "y2": {"datum": 1}}},
                           {"mark": {"type": "rule", "color": "#222222", "strokeWidth": 1.4},
                            "encoding": {"x": {"field": "median", "type": "quantitative", "scale": {"domain": [-301, 1288], "nice": false, "zero": false}, "axis": null},
                                         "y": {"datum": -1, "type": "quantitative", "scale": {"domain": [-20.154, 3.231], "nice": false, "zero": false}, "axis": null}, "y2": {"datum": 1}}},
                           {"mark": {"type": "rule", "color": "#333333", "strokeWidth": 1.2},
                            "encoding": {"x": {"field": "ciLo", "type": "quantitative", "scale": {"domain": [-301, 1288], "nice": false, "zero": false}, "axis": null}, "x2": {"field": "mean"},
                                         "y": {"datum": 0, "type": "quantitative", "scale": {"domain": [-20.154, 3.231], "nice": false, "zero": false}, "axis": null}, "y2": {"datum": 0.68}}},
                           {"mark": {"type": "rule", "color": "#333333", "strokeWidth": 1.2},
                            "encoding": {"x": {"field": "ciLo", "type": "quantitative", "scale": {"domain": [-301, 1288], "nice": false, "zero": false}, "axis": null}, "x2": {"field": "mean"},
                                         "y": {"datum": 0, "type": "quantitative", "scale": {"domain": [-20.154, 3.231], "nice": false, "zero": false}, "axis": null}, "y2": {"datum": -0.68}}},
                           {"mark": {"type": "rule", "color": "#333333", "strokeWidth": 1.2},
                            "encoding": {"x": {"field": "ciHi", "type": "quantitative", "scale": {"domain": [-301, 1288], "nice": false, "zero": false}, "axis": null}, "x2": {"field": "mean"},
                                         "y": {"datum": 0, "type": "quantitative", "scale": {"domain": [-20.154, 3.231], "nice": false, "zero": false}, "axis": null}, "y2": {"datum": 0.68}}},
                           {"mark": {"type": "rule", "color": "#333333", "strokeWidth": 1.2},
                            "encoding": {"x": {"field": "ciHi", "type": "quantitative", "scale": {"domain": [-301, 1288], "nice": false, "zero": false}, "axis": null}, "x2": {"field": "mean"},
                                         "y": {"datum": 0, "type": "quantitative", "scale": {"domain": [-20.154, 3.231], "nice": false, "zero": false}, "axis": null}, "y2": {"datum": -0.68}}},
                           {"mark": {"type": "rule", "color": "#e5505e", "strokeWidth": 1.4},
                            "encoding": {"x": {"field": "shortLo", "type": "quantitative", "scale": {"domain": [-301, 1288], "nice": false, "zero": false}, "axis": null}, "x2": {"field": "shortHi"},
                                         "y": {"datum": 1.95, "type": "quantitative", "scale": {"domain": [-20.154, 3.231], "nice": false, "zero": false}, "axis": null}}},
                           {"mark": {"type": "rule", "color": "#e5505e", "strokeWidth": 1.4},
                            "encoding": {"x": {"field": "shortLo", "type": "quantitative", "scale": {"domain": [-301, 1288], "nice": false, "zero": false}, "axis": null},
                                         "y": {"datum": 1.62, "type": "quantitative", "scale": {"domain": [-20.154, 3.231], "nice": false, "zero": false}, "axis": null}, "y2": {"datum": 1.95}}},
                           {"mark": {"type": "rule", "color": "#e5505e", "strokeWidth": 1.4},
                            "encoding": {"x": {"field": "shortHi", "type": "quantitative", "scale": {"domain": [-301, 1288], "nice": false, "zero": false}, "axis": null},
                                         "y": {"datum": 1.62, "type": "quantitative", "scale": {"domain": [-20.154, 3.231], "nice": false, "zero": false}, "axis": null}, "y2": {"datum": 1.95}}},
                           {"data": {"name": "outliers"}, "transform": [{"filter": "datum.panel === 'e'"}],
                            "mark": {"type": "point", "filled": true, "color": "#111111", "size": 10, "opacity": 1},
                            "encoding": {"x": {"field": "value", "type": "quantitative", "scale": {"domain": [-301, 1288], "nice": false, "zero": false}, "axis": null},
                                         "y": {"datum": 0, "type": "quantitative", "scale": {"domain": [-20.154, 3.231], "nice": false, "zero": false}, "axis": null}}},
                           {"mark": {"type": "text", "font": "Lato", "fontSize": 17.8, "color": "#1a1a1a", "align": "left", "baseline": "middle"},
                            "encoding": {"text": {"field": "tag"},
                                         "x": {"datum": -237, "type": "quantitative", "scale": {"domain": [-301, 1288], "nice": false, "zero": false}, "axis": null},
                                         "y": {"datum": -4.45, "type": "quantitative", "scale": {"domain": [-20.154, 3.231], "nice": false, "zero": false}, "axis": null}}},
                           {"mark": {"type": "text", "font": "Lato", "fontSize": 17.8, "color": "#1a1a1a", "align": "left", "baseline": "middle", "lineBreak": "\n", "lineHeight": 25},
                            "encoding": {"text": {"field": "summary"},
                                         "x": {"datum": 555, "type": "quantitative", "scale": {"domain": [-301, 1288], "nice": false, "zero": false}, "axis": null},
                                         "y": {"datum": -4.55, "type": "quantitative", "scale": {"domain": [-20.154, 3.231], "nice": false, "zero": false}, "axis": null}}}
                         ]}
                      ]
                    }
                  ]
                }
              ]
            }
          ]
        }
      ]
    }
  ]
}
